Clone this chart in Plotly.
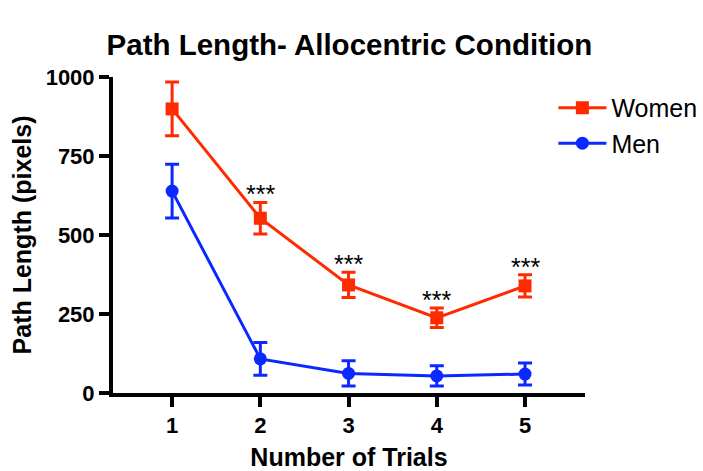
import plotly.graph_objects as go

trials = [1, 2, 3, 4, 5]
women_mean = [899, 553, 342, 238, 339]
women_err = [85, 50, 40, 31, 35]
men_mean = [639, 108, 62, 54, 60]
men_err = [85, 52, 40, 32, 35]
sig_trials = [2, 3, 4, 5]
sig_labels = ["***", "***", "***", "***"]

RED = "#ff2a00"
BLUE = "#0a28ff"
FONT = "Liberation Sans, Arial, sans-serif"

fig = go.Figure()
fig.add_trace(go.Scatter(
    x=trials, y=women_mean, name="Women", mode="lines+markers",
    line=dict(color=RED, width=3),
    marker=dict(symbol="square", size=13, color=RED),
    error_y=dict(type="data", array=women_err, color=RED, thickness=3, width=7),
))
fig.add_trace(go.Scatter(
    x=trials, y=men_mean, name="Men", mode="lines+markers",
    line=dict(color=BLUE, width=3),
    marker=dict(symbol="circle", size=13, color=BLUE),
    error_y=dict(type="data", array=men_err, color=BLUE, thickness=3, width=7),
))

# significance markers above the upper error bar of the Women series
for t, lab in zip(sig_trials, sig_labels):
    i = trials.index(t)
    fig.add_annotation(
        x=t, y=women_mean[i] + women_err[i], text=lab, showarrow=False,
        yanchor="bottom", yshift=-8, font=dict(family=FONT, size=25, color="black"),
    )

fig.update_layout(
    width=703, height=471,
    margin=dict(l=113, r=118, t=77, b=78, autoexpand=False),
    paper_bgcolor="white", plot_bgcolor="white",
    title=dict(text="<b>Path Length- Allocentric Condition</b>", x=0.497, xanchor="center",
               y=0.905, yanchor="middle", font=dict(family=FONT, size=29.5, color="black")),
    font=dict(family=FONT, color="black"),
    legend=dict(x=0.933, y=0.975, xanchor="left", yanchor="top",
                font=dict(family=FONT, size=25, color="black"),
                tracegroupgap=9, itemwidth=48, bgcolor="rgba(0,0,0,0)"),
    showlegend=True,
)
fig.update_xaxes(
    range=[0.33, 5.68], tickvals=trials, ticktext=[f"<b>{t}</b>" for t in trials],
    showline=True, linecolor="black", linewidth=4, ticks="outside", ticklen=10,
    tickwidth=4, tickcolor="black", showgrid=False, zeroline=False, automargin=False,
    tickfont=dict(family=FONT, size=22, color="black"),
    title=dict(text="<b>Number of Trials</b>", font=dict(family=FONT, size=25), standoff=16),
)
fig.update_yaxes(
    range=[0, 1000], tickvals=[0, 250, 500, 750, 1000],
    ticktext=["<b>0</b>", "<b>250</b>", "<b>500</b>", "<b>750</b>", "<b>1000</b>"],
    showline=True, linecolor="black", linewidth=4, ticks="outside", ticklen=10,
    tickwidth=4, tickcolor="black", showgrid=False, zeroline=False, automargin=False,
    tickfont=dict(family=FONT, size=22, color="black"),
    title=dict(text="<b>Path Length (pixels)</b>", font=dict(family=FONT, size=25), standoff=8),
)

fig.write_html("out.html")
